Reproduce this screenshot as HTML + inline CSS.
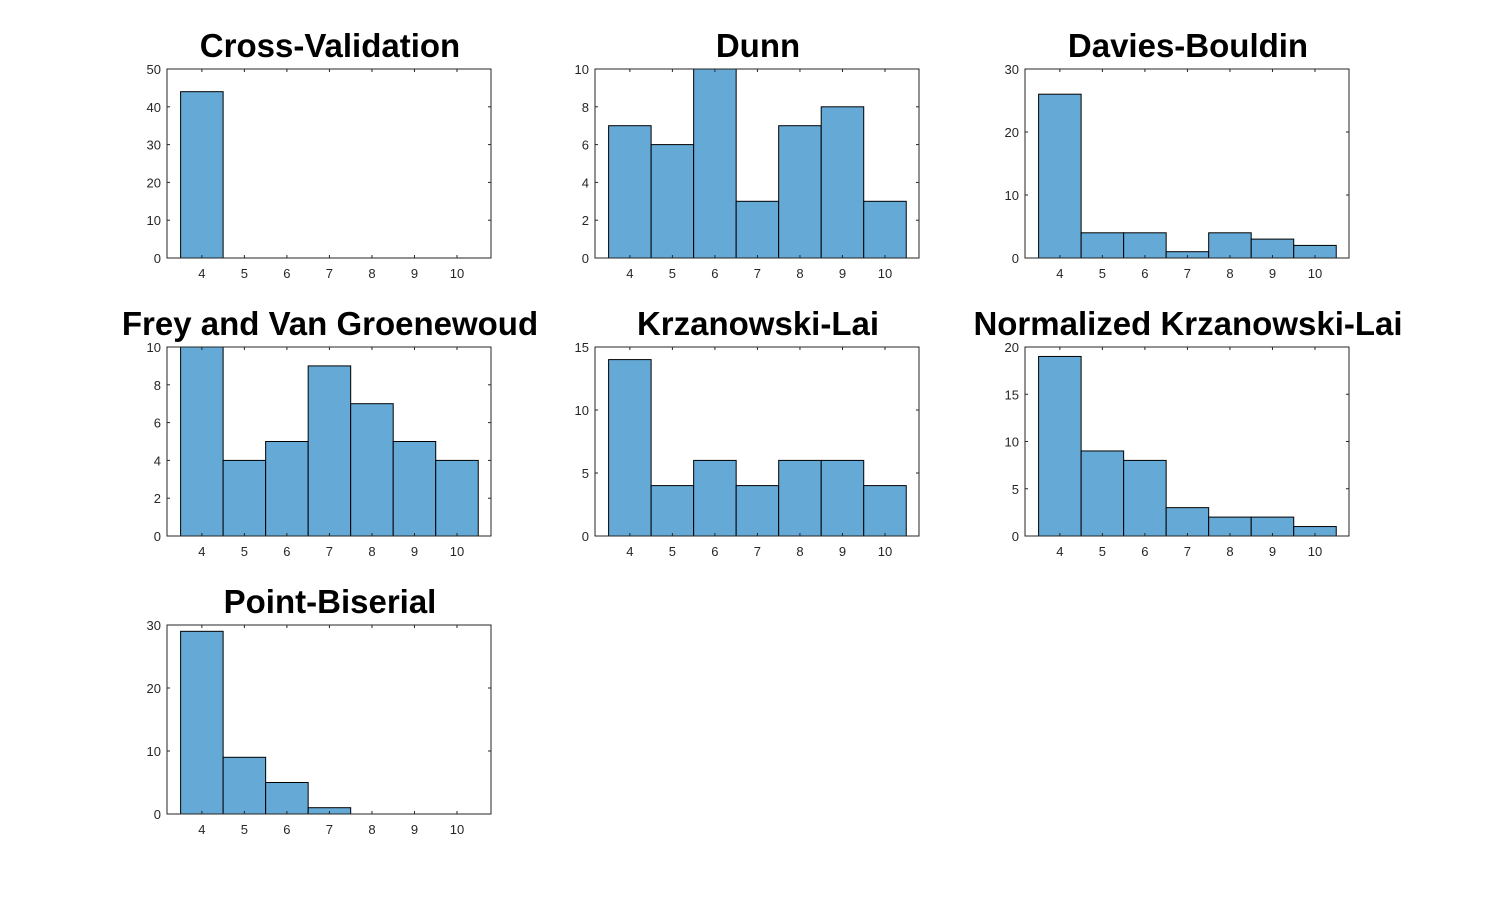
<!DOCTYPE html>
<html><head><meta charset="utf-8"><style>
html,body{margin:0;padding:0;background:#fff;}
svg{display:block;font-family:"Liberation Sans",Arial,sans-serif;}
</style></head><body>
<svg id="fig" width="1493" height="916" viewBox="0 0 1493 916"></svg>
<script>
const categories = [4,5,6,7,8,9,10];
const titles = ["Cross-Validation","Dunn","Davies-Bouldin","Frey and Van Groenewoud","Krzanowski-Lai","Normalized Krzanowski-Lai","Point-Biserial"];
const cvCounts = [44,0,0,0,0,0,0];
const dunnCounts = [7,6,10,3,7,8,3];
const dbCounts = [26,4,4,1,4,3,2];
const freyCounts = [10,4,5,9,7,5,4];
const klCounts = [14,4,6,4,6,6,4];
const nklCounts = [19,9,8,3,2,2,1];
const pbCounts = [29,9,5,1,0,0,0];
const yMaxes = [50,10,30,10,15,20,30];
const yTickSteps = [10,2,10,2,5,5,10];
const allCounts = [cvCounts,dunnCounts,dbCounts,freyCounts,klCounts,nklCounts,pbCounts];

const NS="http://www.w3.org/2000/svg";
const svg=document.getElementById('fig');
const colL=[167,595,1025], rowT=[69,347,625];
const W=324, H=189;
const xMin=3.18, xMax=10.8;
function mk(tag,attrs,parent){const e=document.createElementNS(NS,tag);for(const k in attrs)e.setAttribute(k,attrs[k]);parent.appendChild(e);return e;}
function slug(s){return s.toLowerCase().replace(/[^a-z0-9]+/g,'-').replace(/^-|-$/g,'');}

allCounts.forEach((counts,i)=>{
  const L=colL[i%3], T=rowT[Math.floor(i/3)];
  const xs=v=>L+(v-xMin)/(xMax-xMin)*W;
  const ys=v=>T+H-v/yMaxes[i]*H;
  const g=mk('g',{},svg);
  
  
  const t=mk('text',{x:L+W/2+1,y:T-12,'text-anchor':'middle','font-size':'33','font-weight':'bold',fill:'#000'},g);
  t.textContent=titles[i];
  
  
  counts.forEach((c,j)=>{
    if(c<=0) return;
    const x0=xs(categories[j]-0.5), x1=xs(categories[j]+0.5);
    const r=mk('rect',{x:x0,y:ys(c),width:x1-x0,height:ys(0)-ys(c),fill:'#65a9d7',stroke:'#000','stroke-width':'1'},g);
    
    
  });
  const box=mk('rect',{x:L,y:T,width:W,height:H,fill:'none',stroke:'#262626','stroke-width':'1'},g);
  
  
  categories.forEach(v=>{
    const x=xs(v);
    mk('line',{x1:x,x2:x,y1:T+H,y2:T+H-3,stroke:'#262626'},g);
    mk('line',{x1:x,x2:x,y1:T,y2:T+3,stroke:'#262626'},g);
    const tl=mk('text',{x:x,y:T+H+20,'text-anchor':'middle','font-size':'13',fill:'#262626'},g);
    tl.textContent=v;
    
    
  });
  for(let v=0;v<=yMaxes[i]+1e-9;v+=yTickSteps[i]){
    const y=ys(v);
    mk('line',{x1:L,x2:L+3,y1:y,y2:y,stroke:'#262626'},g);
    mk('line',{x1:L+W,x2:L+W-3,y1:y,y2:y,stroke:'#262626'},g);
    const tl=mk('text',{x:L-6,y:y+5,'text-anchor':'end','font-size':'13',fill:'#262626'},g);
    tl.textContent=v;
    
    
  }
});
</script>
</body></html>
